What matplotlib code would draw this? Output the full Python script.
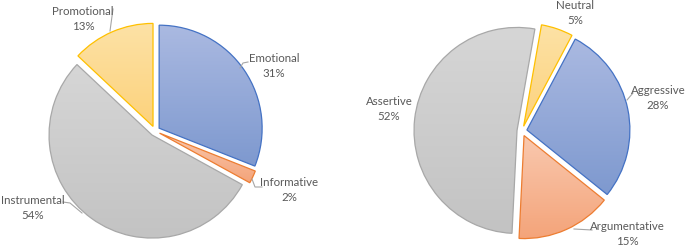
import numpy as np
import matplotlib
matplotlib.use("Agg")
import matplotlib.pyplot as plt
from matplotlib.colors import LinearSegmentedColormap

# data
left_labels = ["Emotional", "Informative", "Instrumental", "Promotional"]
left_values = [31, 2, 54, 13]
right_labels = ["Aggressive", "Argumentative", "Assertive", "Neutral"]
right_values = [28, 15, 52, 5]

W, H = 685, 246

# (top colour, bottom colour, edge colour) for each slice style
BLUE = ("#aab9e1", "#7e99cf", "#4472c4")
ORANGE = ("#f9c8ae", "#f4a47a", "#ed7d31")
GRAY = ("#d6d6d6", "#c3c3c3", "#a8a8a8")
YELLOW = ("#fde2a6", "#fcd27c", "#ffc000")
left_styles = [BLUE, ORANGE, GRAY, YELLOW]
right_styles = [BLUE, ORANGE, GRAY, YELLOW]

# label block centres and leader lines, in image pixels (y down)
left_label_pos = [(274, 66), (289, 190), (33, 208), (83, 19)]
right_label_pos = [(658, 98), (627, 234), (389, 109), (575, 13)]
leaders = [
    [(248, 62), (243, 63), (240, 68)],
    [(262, 187), (255, 187), (252, 179)],
    [(63, 202), (70, 203), (82, 213)],
    [(113, 9), (110, 31)],
    [(633, 93), (627, 100)],
    [(592, 230), (574, 229)],
]

TEXT = "#595959"
LINE = "#a6a6a6"


def flip(p):
    return p[0], H - p[1]


def draw_pie(ax, values, labels, styles, center, startangle, label_pos):
    # explode is in data units (pixels here), not a fraction of the radius
    wedges, _ = ax.pie(values, radius=103, center=flip(center),
                       startangle=startangle, counterclock=False,
                       explode=[5] * len(values),
                       wedgeprops=dict(facecolor="none", linewidth=0.9))
    for w, (top, bottom, edge) in zip(wedges, styles):
        w.set_edgecolor(edge)
        w.set_zorder(3)
        bb = w.get_path().get_extents()
        cmap = LinearSegmentedColormap.from_list("g", [bottom, top])
        grad = np.linspace(0, 1, 64).reshape(-1, 1)
        im = ax.imshow(grad, cmap=cmap, origin="lower", aspect="auto",
                       extent=(bb.x0, bb.x1, bb.y0, bb.y1), zorder=2,
                       interpolation="bilinear")
        im.set_clip_path(w)
    for lab, v, p in zip(labels, values, label_pos):
        x, y = flip(p)
        ax.text(x, y, f"{lab}\n{v}%", ha="center", va="center",
                fontsize=8.3, color=TEXT, linespacing=1.35, zorder=5)


fig = plt.figure(figsize=(W / 100, H / 100), dpi=100)
ax = fig.add_axes([0, 0, 1, 1])
plt.rcParams["font.family"] = ["Lato", "DejaVu Sans"]

draw_pie(ax, left_values, left_labels, left_styles, (155, 131), 90, left_label_pos)
draw_pie(ax, right_values, right_labels, right_styles, (522, 131), 62, right_label_pos)

for pts in leaders:
    xs, ys = zip(*[flip(p) for p in pts])
    ax.plot(xs, ys, color=LINE, linewidth=0.8, zorder=4)

ax.set_xlim(0, W)
ax.set_ylim(0, H)
ax.set_aspect("auto")
ax.axis("off")

fig.savefig("out.png", dpi=100, facecolor="white")
